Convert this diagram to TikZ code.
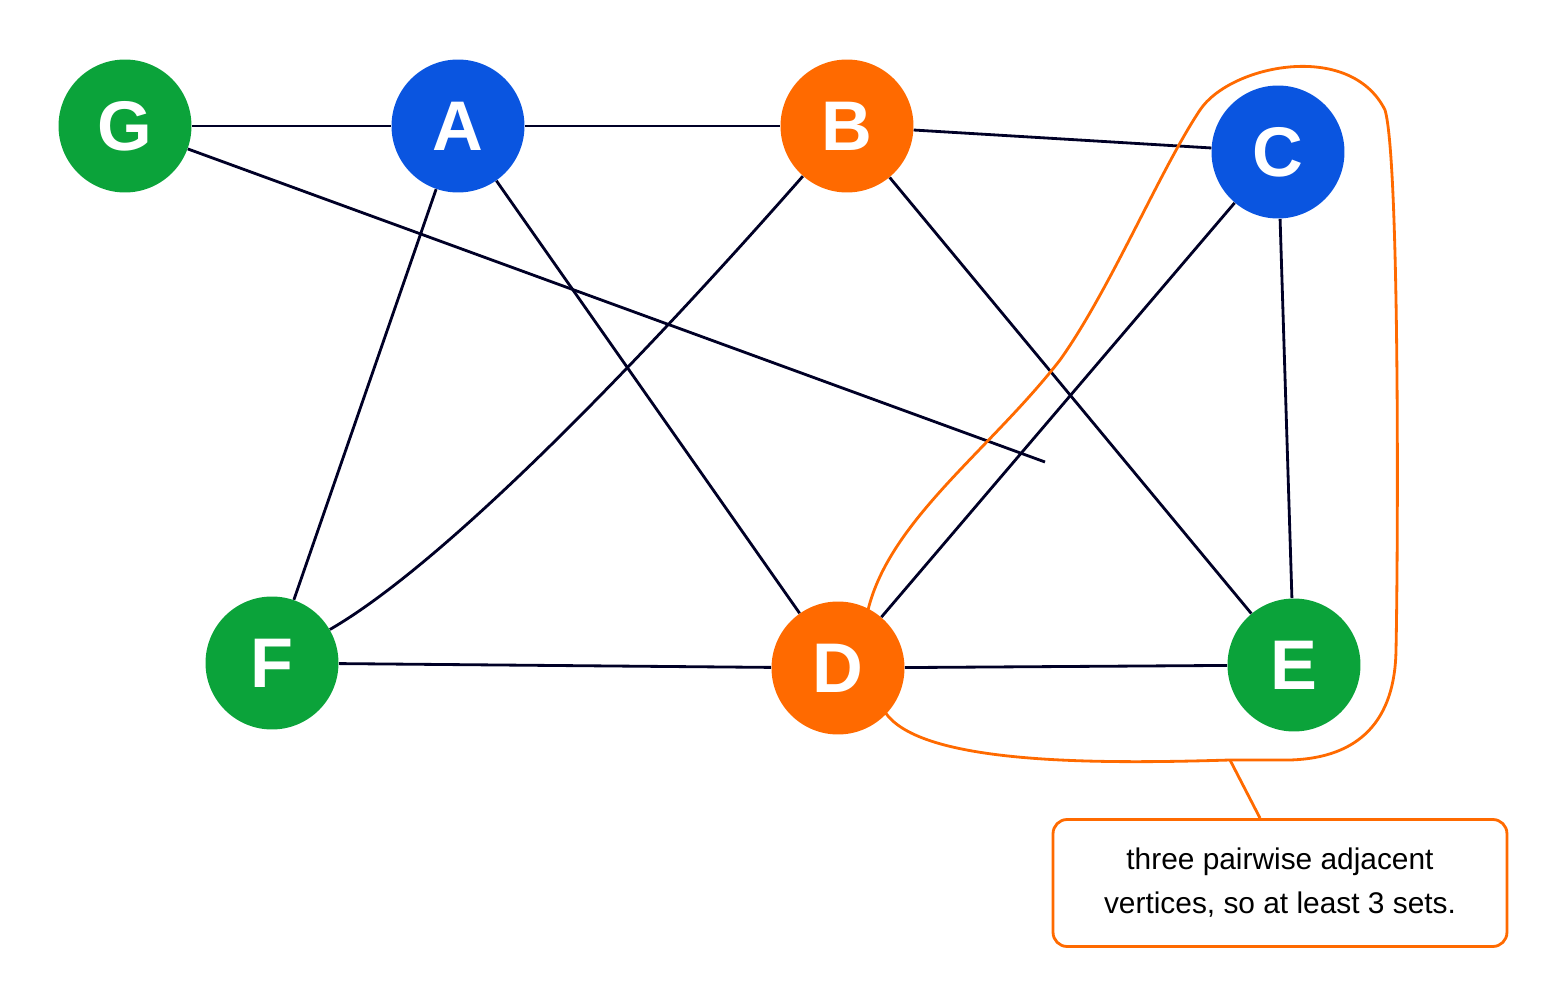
\documentclass[tikz,border=0pt]{standalone}
\usepackage{fontspec}
\setmainfont{Liberation Sans}
\begin{document}
\begin{tikzpicture}[x=0.02cm,y=-0.02cm,
  v/.style={circle,minimum size=2.66cm,inner sep=0pt,text=white,font=\fontsize{40}{40}\selectfont\bfseries},
  e/.style={draw=black!85!blue,line width=1.6pt},
  hl/.style={draw=orange!90!red,line width=1.6pt}]
\definecolor{vg}{HTML}{0BA33A}\definecolor{vb}{HTML}{0A55E0}\definecolor{vo}{HTML}{FF6A00}
\useasboundingbox (0,0) rectangle (1563,1006);
\node[v,fill=vg] (G) at (125,126) {G};
\node[v,fill=vb] (A) at (458,126) {A};
\node[v,fill=vo] (B) at (847,126) {B};
\node[v,fill=vb] (C) at (1278,152) {C};
\node[v,fill=vg] (F) at (272,663) {F};
\node[v,fill=vo] (D) at (838,668) {D};
\node[v,fill=vg] (E) at (1294,665) {E};
\coordinate (g1) at (1045,462);
\draw[e] (G) -- (A); \draw[e] (A) -- (B); \draw[e] (B) -- (C);
\draw[e] (G) -- (g1);
\draw[e] (A) -- (F); \draw[e] (A) -- (D);
\draw[e] (B) .. controls (650,350) and (450,560) .. (F);
\draw[e] (B) -- (E);
\draw[e] (C) -- (D); \draw[e] (C) -- (E);
\draw[e] (F) -- (D); \draw[e] (D) -- (E);
\node[draw=vo,line width=1.6pt,rounded corners=8pt,minimum width=9.08cm,minimum height=2.54cm,align=center,font=\fontsize{17}{25}\selectfont] (T) at (1280,883) {three pairwise adjacent\\vertices, so at least 3 sets.};
\coordinate (h) at (1230,760);
\draw[draw=vo,line width=1.6pt] (868,610) .. controls (890,520) and (990,450) .. (1060,360)
  .. controls (1110,290) and (1160,170) .. (1200,110)
  .. controls (1230,65) and (1350,40) .. (1385,110)
  .. controls (1400,160) and (1398,560) .. (1396,650)
  .. controls (1395,720) and (1360,758) .. (1290,760)
  -- (h) .. controls (1100,764) and (920,765) .. (885,712);
\draw[draw=vo,line width=1.6pt] (h) -- (T.north west -| 1260,0);
\end{tikzpicture}
\end{document}
